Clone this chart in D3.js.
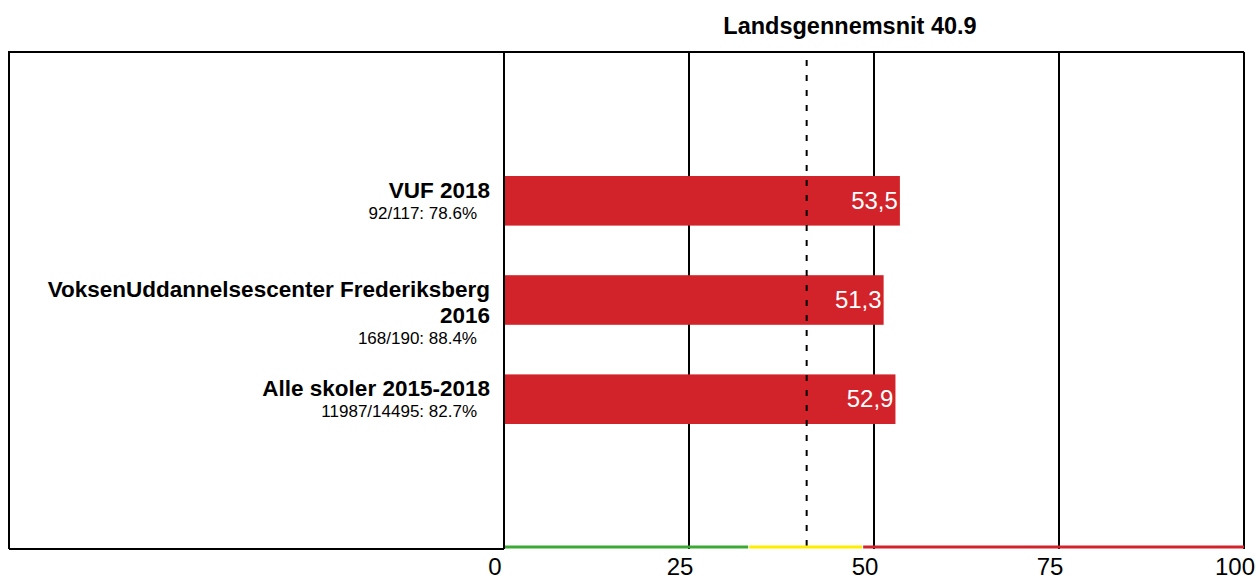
<!DOCTYPE html>
<html>
<head>
<meta charset="UTF-8">
<script src="https://d3js.org/d3.v7.min.js"></script>
<style>
  body { margin: 0; background: #fff; }
  text { font-family: "Liberation Sans", Arial, sans-serif; }
</style>
</head>
<body>
<div id="chart"></div>
<script>
// data
var schools = ["VUF 2018", "VoksenUddannelsescenter Frederiksberg|2016", "Alle skoler 2015-2018"];
var counts = ["92/117: 78.6%", "168/190: 88.4%", "11987/14495: 82.7%"];
var scores = [53.5, 51.3, 52.9];
var average = 40.9;
var ticks = [0, 25, 50, 75, 100];
// colour bands along the axis
var bandStops = [0, 33, 48.4, 100];
var bandColors = ["#3aaa35", "#ffed00", "#d2232a"];

var W = 1256, H = 578;
var pLeft = 9, x0 = 504, pRight = 1244, pTop = 52, pBottom = 549;

var svg = d3.select("#chart").append("svg")
    .attr("width", W).attr("height", H);

var x = d3.scaleLinear().domain([0, 100]).range([x0, pRight]);
var y = d3.scaleBand()
    .domain(schools)
    .range([pTop, pBottom - 1])
    .paddingInner(0.5)
    .paddingOuter(1.25);

// frame
svg.append("path")
    .attr("d", "M" + pLeft + "," + pBottom + "V" + pTop + "H" + pRight)
    .attr("fill", "none")
    .attr("stroke", "#000")
    .attr("stroke-width", 2);
svg.append("line")
    .attr("x1", pLeft).attr("x2", x0)
    .attr("y1", pBottom).attr("y2", pBottom)
    .attr("stroke", "#000").attr("stroke-width", 2);

// grid
svg.selectAll(".grid")
    .data(ticks)
    .enter()
    .append("line")
        .attr("x1", function(d) { return x(d); })
        .attr("x2", function(d) { return x(d); })
        .attr("y1", pTop)
        .attr("y2", pBottom)
        .attr("stroke", "#000")
        .attr("stroke-width", 2);

// bars
svg.selectAll(".bar")
    .data(schools)
    .enter()
    .append("rect")
        .attr("x", x(0) + 1)
        .attr("y", function(d) { return y(d); })
        .attr("width", function(d, i) { return x(scores[i]) - x(0) - 1; })
        .attr("height", y.bandwidth())
        .attr("fill", "#d2232a");

// value labels
svg.selectAll(".val")
    .data(schools)
    .enter()
    .append("text")
        .attr("x", function(d, i) { return x(scores[i]) - 2; })
        .attr("y", function(d) { return y(d) + y.bandwidth() / 2 + 8; })
        .attr("text-anchor", "end")
        .attr("fill", "#fff")
        .style("font-size", "24px")
        .text(function(d, i) { return scores[i].toFixed(1).replace(".", ","); });

// average line
svg.append("line")
    .attr("x1", x(average)).attr("x2", x(average))
    .attr("y1", pTop).attr("y2", pBottom)
    .attr("stroke", "#000")
    .attr("stroke-width", 2)
    .attr("stroke-dasharray", "6,9")
    .attr("stroke-dashoffset", -8);

svg.append("text")
    .attr("x", 850)
    .attr("y", 34)
    .attr("text-anchor", "middle")
    .style("font-size", "23.5px")
    .style("font-weight", "bold")
    .text("Landsgennemsnit " + average);

// colour bands
svg.selectAll(".band")
    .data(bandColors)
    .enter()
    .append("line")
        .attr("x1", function(d, i) { return x(bandStops[i]) + 1; })
        .attr("x2", function(d, i) { return x(bandStops[i + 1]); })
        .attr("y1", pBottom - 2)
        .attr("y2", pBottom - 2)
        .attr("stroke", function(d) { return d; })
        .attr("stroke-width", 3);

// category labels
schools.forEach(function(s, i) {
    var lines = s.split("|");
    var cy = y(s) + y.bandwidth() / 2;
    var startY = cy - 3;
    var g = svg.append("g");
    lines.forEach(function(l, j) {
        g.append("text")
            .attr("x", 490)
            .attr("y", startY + j * 26)
            .attr("text-anchor", "end")
            .style("font-size", "22.5px")
            .style("font-weight", "bold")
            .text(l);
    });
    g.append("text")
        .attr("x", 477)
        .attr("y", startY + (lines.length - 1) * 26 + 21)
        .attr("text-anchor", "end")
        .style("font-size", "17px")
        .text(counts[i]);
});

// tick labels
svg.selectAll(".tick")
    .data(ticks)
    .enter()
    .append("text")
        .attr("x", function(d) { return x(d) - 9; })
        .attr("y", 575)
        .attr("text-anchor", "middle")
        .style("font-size", "24px")
        .text(function(d) { return d; });
</script>
</body>
</html>
